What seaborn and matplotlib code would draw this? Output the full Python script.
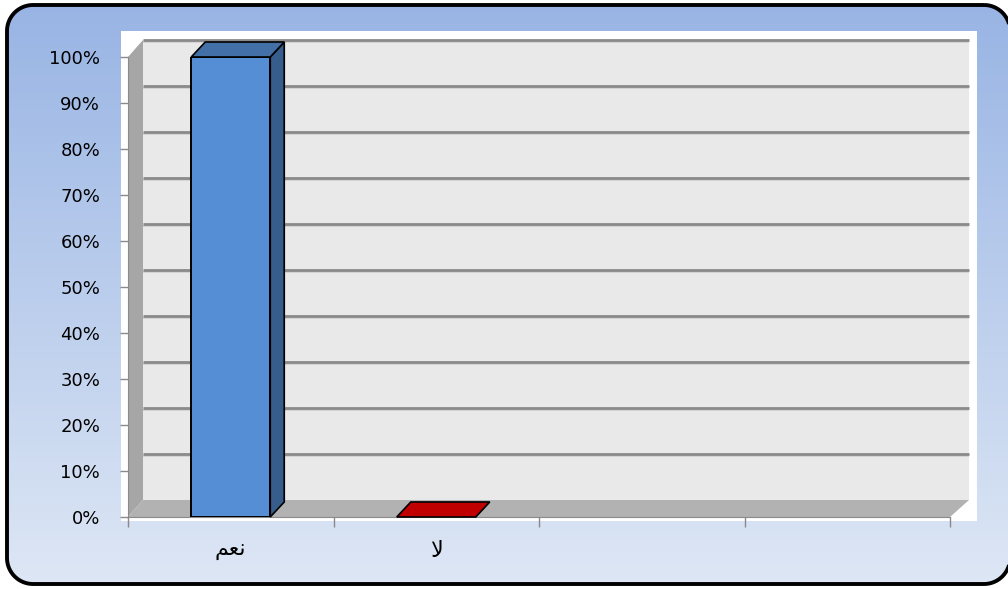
import matplotlib
matplotlib.use('Agg')
import numpy as np
import matplotlib.pyplot as plt
import seaborn as sns
from matplotlib.patches import Polygon, Rectangle
from matplotlib.ticker import PercentFormatter

# data
categories = ['نعم', 'لا']
values = [1.0, 0.0]
n_slots = 4
front_colors = ['#558ed5', '#c00000']
side_colors = ['#375d8c', '#8c0000']
top_colors = ['#4470a8', '#c00000']

# matplotlib does not shape arabic, so use presentation forms in visual order
display = {'نعم': '\uFEE2\uFECC\uFEE7', 'لا': '\uFEFB'}

sns.set_style('white')
plt.rcParams['font.family'] = ['DejaVu Sans']

W, H = 1008, 589
fig = plt.figure(figsize=(W / 100, H / 100), dpi=100)


def rounded_rect(x, y, w, h, r, n=20):
    pts = []
    corners = [(x + w - r, y + r, -90, 0), (x + w - r, y + h - r, 0, 90),
               (x + r, y + h - r, 90, 180), (x + r, y + r, 180, 270)]
    for cx, cy, a0, a1 in corners:
        t = np.radians(np.linspace(a0, a1, n))
        pts += list(zip(cx + r * np.cos(t), cy + r * np.sin(t)))
    return pts


# background with gradient and rounded border
bg = fig.add_axes([0, 0, 1, 1])
bg.set_xlim(0, W)
bg.set_ylim(H, 0)
bg.axis('off')
box = Polygon(rounded_rect(7, 5, 1003, 579, 26), closed=True, facecolor='none',
              edgecolor='black', linewidth=2.8, zorder=3, joinstyle='round')
bg.add_patch(box)
grad = np.linspace(0, 1, 256).reshape(-1, 1)
top_c = np.array([0x98, 0xb4, 0xe4]) / 255
bot_c = np.array([0xde, 0xe7, 0xf5]) / 255
img = top_c + (bot_c - top_c) * grad[..., None]
im = bg.imshow(img, extent=(0, W, H, 0), aspect='auto', zorder=1)
im.set_clip_path(box)
bg.add_patch(Rectangle((121, 31), 856, 490, facecolor='white', edgecolor='none', zorder=2))

# main axes = front plane of the 3d chart
x0, x1, y0, y1 = 128, 950, 57, 517
ax = fig.add_axes([x0 / W, (H - y1) / H, (x1 - x0) / W, (y1 - y0) / H])
ax.patch.set_visible(False)

bar_w = 79 / ((x1 - x0) / n_slots)
sns.barplot(x=categories, y=values, hue=categories, palette=front_colors, saturation=1,
            legend=False, width=bar_w, edgecolor='black', linewidth=1.4, ax=ax, zorder=3)
ax.set_xlim(-0.5, n_slots - 0.5)
ax.set_ylim(0, 1)

# depth offsets in data units
dxw = 15 / ((x1 - x0) / n_slots)
dyw = 17 / (y1 - y0)
dxb = 14 / ((x1 - x0) / n_slots)
dyb = 15 / (y1 - y0)
wall_extra = 4 / ((x1 - x0) / n_slots)

xa, xb = -0.5, n_slots - 0.5
ax.add_patch(Rectangle((xa + dxw, dyw), xb - xa + wall_extra, 1, facecolor='#e9e9e9',
                       edgecolor='none', clip_on=False, zorder=0.5))
ax.add_patch(Polygon([(xa, 0), (xa, 1), (xa + dxw, 1 + dyw), (xa + dxw, dyw)],
                     facecolor='#a6a6a6', edgecolor='none', clip_on=False, zorder=0.6))
ax.add_patch(Polygon([(xa, 0), (xb, 0), (xb + dxw + wall_extra, dyw), (xa + dxw, dyw)],
                     facecolor='#b2b2b2', edgecolor='none', clip_on=False, zorder=0.6))
for v in np.arange(0.1, 1.01, 0.1):
    ax.plot([xa + dxw, xb + dxw + wall_extra], [v + dyw, v + dyw], color='#8a8a8a', lw=2,
            clip_on=False, zorder=0.55, solid_capstyle='butt')
    ax.plot([xa + dxw, xb + dxw + wall_extra], [v + dyw - 0.004, v + dyw - 0.004],
            color='#cfcfcf', lw=1.2, clip_on=False, zorder=0.54, solid_capstyle='butt')

# 3d faces of the bars
bars = [q for q in ax.patches if isinstance(q, Rectangle) and q.get_zorder() == 3]
for i, p in enumerate(bars):
    bx, bw, bh = p.get_x(), p.get_width(), p.get_height()
    top = Polygon([(bx, bh), (bx + bw, bh), (bx + bw + dxb, bh + dyb), (bx + dxb, bh + dyb)],
                  facecolor=top_colors[i], edgecolor='black', lw=1.2, clip_on=False, zorder=3.2)
    ax.add_patch(top)
    if bh > 0:
        side = Polygon([(bx + bw, 0), (bx + bw, bh), (bx + bw + dxb, bh + dyb), (bx + bw + dxb, dyb)],
                       facecolor=side_colors[i], edgecolor='black', lw=1.2, clip_on=False, zorder=3.1)
        ax.add_patch(side)

# axes, ticks and labels
for s in ['top', 'right']:
    ax.spines[s].set_visible(False)
ax.spines['left'].set_color('#8a8a8a')
ax.spines['bottom'].set_color('#8a8a8a')
ax.spines['left'].set_zorder(0.7)
ax.yaxis.set_major_formatter(PercentFormatter(1.0, decimals=0))
ax.set_yticks(np.arange(0, 1.01, 0.1))
ax.tick_params(axis='y', direction='out', length=6, width=1, color='#8a8a8a',
               labelsize=13, labelcolor='black', pad=14, left=True)
ax.set_xticks(np.arange(xa, xb + 0.01, 1))
ax.set_xticklabels([''] * (n_slots + 1))
ax.set_xticks(range(len(categories)), minor=True)
ax.set_xticklabels([display[c] for c in categories], minor=True, fontsize=16)
ax.tick_params(axis='x', which='major', direction='out', length=7, width=1,
               color='#8a8a8a', bottom=True)
ax.tick_params(axis='x', which='minor', length=0, pad=17, labelcolor='black')
ax.set_xlabel('')
ax.set_ylabel('')

fig.savefig('out.png', dpi=100)
